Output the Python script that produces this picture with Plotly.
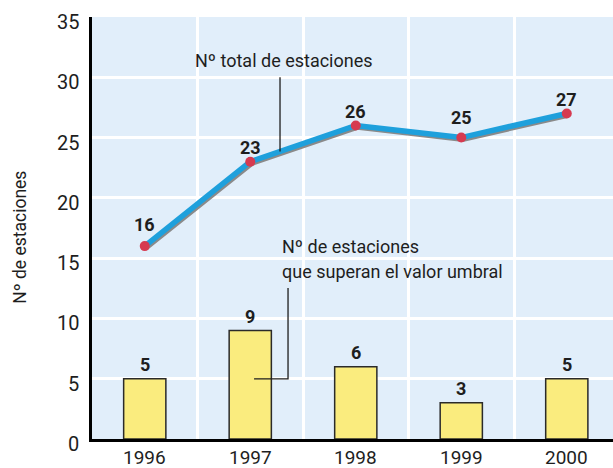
import plotly.graph_objects as go

years = ["1996", "1997", "1998", "1999", "2000"]
total_stations = [16, 23, 26, 25, 27]
exceed_stations = [5, 9, 6, 3, 5]
y_ticks = [0, 5, 10, 15, 20, 25, 30, 35]

FONT = "Roboto"
TXT = "#1e1e1e"
BLUE = "#1ea0dc"
RED = "#d63a50"
YELLOW = "#faec7e"
BG = "#e1eefa"

x = list(range(len(years)))

fig = go.Figure()

fig.add_trace(go.Bar(
    x=x, y=exceed_stations, width=0.4,
    marker=dict(color=YELLOW, line=dict(color="#2a2a2a", width=1.5)),
    hoverinfo="skip", showlegend=False,
))

# shadow of line (derived from data)
fig.add_trace(go.Scatter(
    x=[v + 0.014 for v in x], y=[v - 0.15 for v in total_stations],
    mode="lines", line=dict(color="#8a8a8a", width=5),
    hoverinfo="skip", showlegend=False,
))
fig.add_trace(go.Scatter(
    x=x, y=total_stations, mode="lines",
    line=dict(color=BLUE, width=5.5),
    hoverinfo="skip", showlegend=False,
))
fig.add_trace(go.Scatter(
    x=x, y=total_stations, mode="markers",
    marker=dict(color=RED, size=10),
    hoverinfo="skip", showlegend=False,
))

line_shifts = [22, 14, 14, 20, 14]
for i, v in enumerate(total_stations):
    fig.add_annotation(x=i, y=v, text=f"<b>{v}</b>", showarrow=False,
                       yanchor="middle", yshift=line_shifts[i],
                       font=dict(family=FONT, size=18, color=TXT))
for i, v in enumerate(exceed_stations):
    fig.add_annotation(x=i, y=v, text=f"<b>{v}</b>", showarrow=False,
                       yanchor="middle", yshift=14,
                       font=dict(family=FONT, size=18, color=TXT))

# axis tick labels (placed as text so their offset matches the original)
for t in y_ticks:
    fig.add_annotation(xref="paper", x=0, y=t, text=str(t), showarrow=False,
                       xanchor="right", yanchor="middle", xshift=-11, yshift=-5,
                       font=dict(family=FONT, size=20, color=TXT))
for i, yr in enumerate(years):
    fig.add_annotation(x=i, yref="paper", y=0, text=yr, showarrow=False,
                       xanchor="center", yanchor="middle", yshift=-18,
                       font=dict(family=FONT, size=19, color=TXT))

# callout labels
fig.add_annotation(x=0.457, y=31.43, text="Nº total de estaciones", showarrow=False,
                   xanchor="left", yanchor="middle",
                   font=dict(family=FONT, size=18, color=TXT))
fig.add_shape(type="line", x0=1.282, x1=1.282, y0=30.0, y1=23.85,
              line=dict(color="#1e1e1e", width=1.3))

fig.add_annotation(x=1.282, y=16.0, text="Nº de estaciones", showarrow=False,
                   xanchor="left", yanchor="middle",
                   font=dict(family=FONT, size=18, color=TXT))
fig.add_annotation(x=1.282, y=13.93, text="que superan el valor umbral", showarrow=False,
                   xanchor="left", yanchor="middle",
                   font=dict(family=FONT, size=18, color=TXT))
fig.add_shape(type="path", path="M 1.358 12.52 L 1.358 4.98 L 1.036 4.98",
              line=dict(color="#1e1e1e", width=1.3))

# y-axis title
fig.add_annotation(xref="paper", yref="paper", x=-0.138, y=0.477,
                   text="Nº de estaciones", textangle=-90, showarrow=False,
                   xanchor="center", yanchor="middle",
                   font=dict(family=FONT, size=17.5, color=TXT))

fig.update_layout(
    width=613, height=468,
    margin=dict(l=92, r=0, t=17, b=29, pad=0),
    paper_bgcolor="white", plot_bgcolor=BG,
    font=dict(family=FONT, color=TXT),
    hovermode=False,
    xaxis=dict(
        range=[-0.5, 4.438],
        tickvals=x, showticklabels=False,
        showgrid=False, zeroline=False,
        minor=dict(tick0=0.5, dtick=1, showgrid=True, gridcolor="white", gridwidth=3),
        showline=True, linecolor="black", linewidth=3,
        ticks="",
    ),
    yaxis=dict(
        range=[0, 35], tickvals=y_ticks, showticklabels=False,
        showgrid=True, gridcolor="white", gridwidth=3,
        zeroline=False,
        showline=True, linecolor="black", linewidth=3,
        ticks="",
    ),
)

fig.write_html("out.html", config={"displayModeBar": False},
               post_script="document.body.style.margin='0';")
